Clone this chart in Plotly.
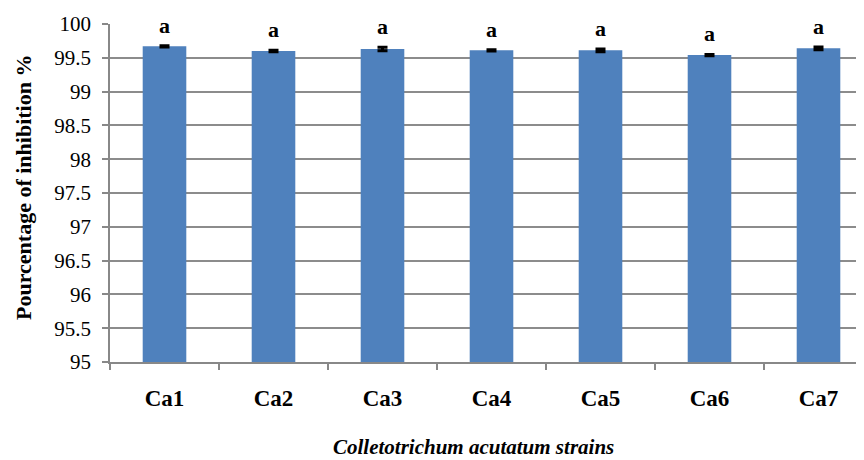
import plotly.graph_objects as go

strains = ["Ca1", "Ca2", "Ca3", "Ca4", "Ca5", "Ca6", "Ca7"]
inhibition = [99.67, 99.60, 99.63, 99.61, 99.61, 99.54, 99.64]
errors = [0.01, 0.01, 0.025, 0.01, 0.02, 0.01, 0.02]
letters = ["a", "a", "a", "a", "a", "a", "a"]

SERIF = "Liberation Serif, Times New Roman, serif"

# the page body has an 8px margin, so the figure is drawn 8px right and down
OFF = 8
W, H = 864 - OFF, 460 - OFF
L, R, T, B = 110 - OFF, 0, 24 - OFF, 98
pw = W - L - R
ph = H - T - B

fig = go.Figure()
fig.add_trace(go.Bar(
    x=strains, y=inhibition,
    marker=dict(color="#4F81BD", line=dict(width=0)),
    error_y=dict(type="data", array=errors, visible=True, color="black", thickness=3, width=5),
    width=0.4,
))

for s, v, e, l in zip(strains, inhibition, errors, letters):
    fig.add_annotation(x=s, y=v + e, text="<b>%s</b>" % l, showarrow=False,
                       yanchor="bottom", yshift=6,
                       font=dict(family=SERIF, size=22, color="black"))

fig.add_annotation(xref="paper", yref="paper", x=(473 - 110) / pw, y=(362 - 447) / ph,
                   text="<b><i>Colletotrichum acutatum strains</i></b>", showarrow=False,
                   xanchor="center", yanchor="middle",
                   font=dict(family=SERIF, size=21, color="black"))
fig.add_annotation(xref="paper", yref="paper", x=(23 - 110) / pw, y=(362 - 188) / ph,
                   text="<b>Pourcentage of inhibition %</b>", showarrow=False, textangle=-90,
                   xanchor="center", yanchor="middle",
                   font=dict(family=SERIF, size=22, color="black"))

fig.update_layout(
    width=W, height=H,
    margin=dict(l=L, r=R, t=T, b=B, autoexpand=False),
    plot_bgcolor="white", paper_bgcolor="white",
    showlegend=False,
    font=dict(family=SERIF, color="black"),
    xaxis=dict(
        range=[-0.5, -0.5 + pw / 109.0], automargin=False,
        tickmode="array", tickvals=strains, ticktext=["<b>%s</b>" % s for s in strains],
        tickson="boundaries", ticks="outside", ticklen=6, tickcolor="#888888", tickwidth=1.5,
        showline=True, linecolor="#888888", linewidth=1.5,
        tickfont=dict(family=SERIF, size=23, color="black"),
        ticklabelstandoff=15,
        showgrid=False,
    ),
    yaxis=dict(
        range=[95, 100], dtick=0.5, automargin=False,
        ticks="outside", ticklen=6, tickcolor="#888888", tickwidth=1.5,
        showline=True, linecolor="#888888", linewidth=1.5,
        showgrid=True, gridcolor="#8c8c8c", gridwidth=1.5,
        tickfont=dict(family=SERIF, size=21, color="black"),
        ticklabelstandoff=7,
        zeroline=False,
    ),
)

fig.write_html("out.html")
